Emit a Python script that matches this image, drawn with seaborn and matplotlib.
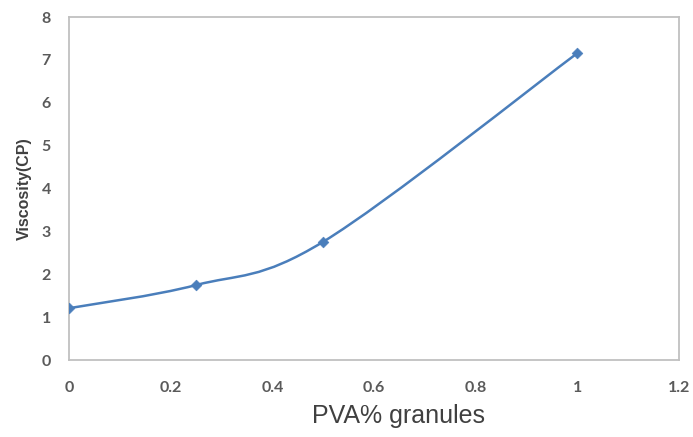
import matplotlib
matplotlib.use("Agg")
import matplotlib.pyplot as plt
from matplotlib.path import Path
from matplotlib.patches import PathPatch
import numpy as np
import pandas as pd
import seaborn as sns

# values
pva = [0, 0.25, 0.5, 1.0]
viscosity = [1.21, 1.75, 2.76, 7.16]
xticks = [0, 0.2, 0.4, 0.6, 0.8, 1, 1.2]
yticks = [0, 1, 2, 3, 4, 5, 6, 7, 8]

df = pd.DataFrame({"pva": pva, "viscosity": viscosity})

sns.set_style("white")
line_col = "#4a7ebb"
tick_col = "#5a5a5a"

fig = plt.figure(figsize=(6.93, 4.37), dpi=100)
ax = fig.add_axes([0.0996, 0.176, 0.8804, 0.785])


# Excel-style smoothed line: cubic Bezier segments with Catmull-Rom control points
def smooth_path(xs, ys):
    pts = np.column_stack([xs, ys])
    n = len(pts)
    verts = [pts[0]]
    codes = [Path.MOVETO]
    for i in range(n - 1):
        p0 = pts[i - 1] if i > 0 else pts[i]
        p1 = pts[i]
        p2 = pts[i + 1]
        p3 = pts[i + 2] if i + 2 < n else pts[i + 1]
        c1 = p1 + (p2 - p0) / 6.0
        c2 = p2 - (p3 - p1) / 6.0
        verts += [c1, c2, p2]
        codes += [Path.CURVE4] * 3
    return Path(verts, codes)


ax.add_patch(PathPatch(smooth_path(df["pva"].values, df["viscosity"].values),
                       facecolor="none", edgecolor=line_col, lw=1.8, zorder=2))
sns.scatterplot(data=df, x="pva", y="viscosity", marker="D", s=30,
                color=line_col, edgecolor=line_col, ax=ax, zorder=3)

ax.set_xlim(0, 1.2)
ax.set_ylim(0, 8)
ax.set_xticks(xticks)
ax.set_xticklabels([f"{t:g}" for t in xticks])
ax.set_yticks(yticks)

for s in ax.spines.values():
    s.set_color("#c0c0c0")
    s.set_linewidth(1.3)

ax.tick_params(axis="both", length=0, colors=tick_col, labelsize=11.5)
ax.tick_params(axis="x", pad=15)
ax.tick_params(axis="y", pad=13)
for lab in ax.get_xticklabels() + ax.get_yticklabels():
    lab.set_fontfamily("Lato")
    lab.set_fontweight("bold")

ax.set_xlabel("PVA% granules", fontsize=18, color="#404040", family="Liberation Sans")
ax.xaxis.set_label_coords(0.54, -0.128)
ax.set_ylabel("Viscosity(CP)", fontsize=11.5, fontweight="bold", color="#404040",
              family="Liberation Sans")
ax.yaxis.set_label_coords(-0.061, 0.5)

fig.savefig("out.png", dpi=100)
